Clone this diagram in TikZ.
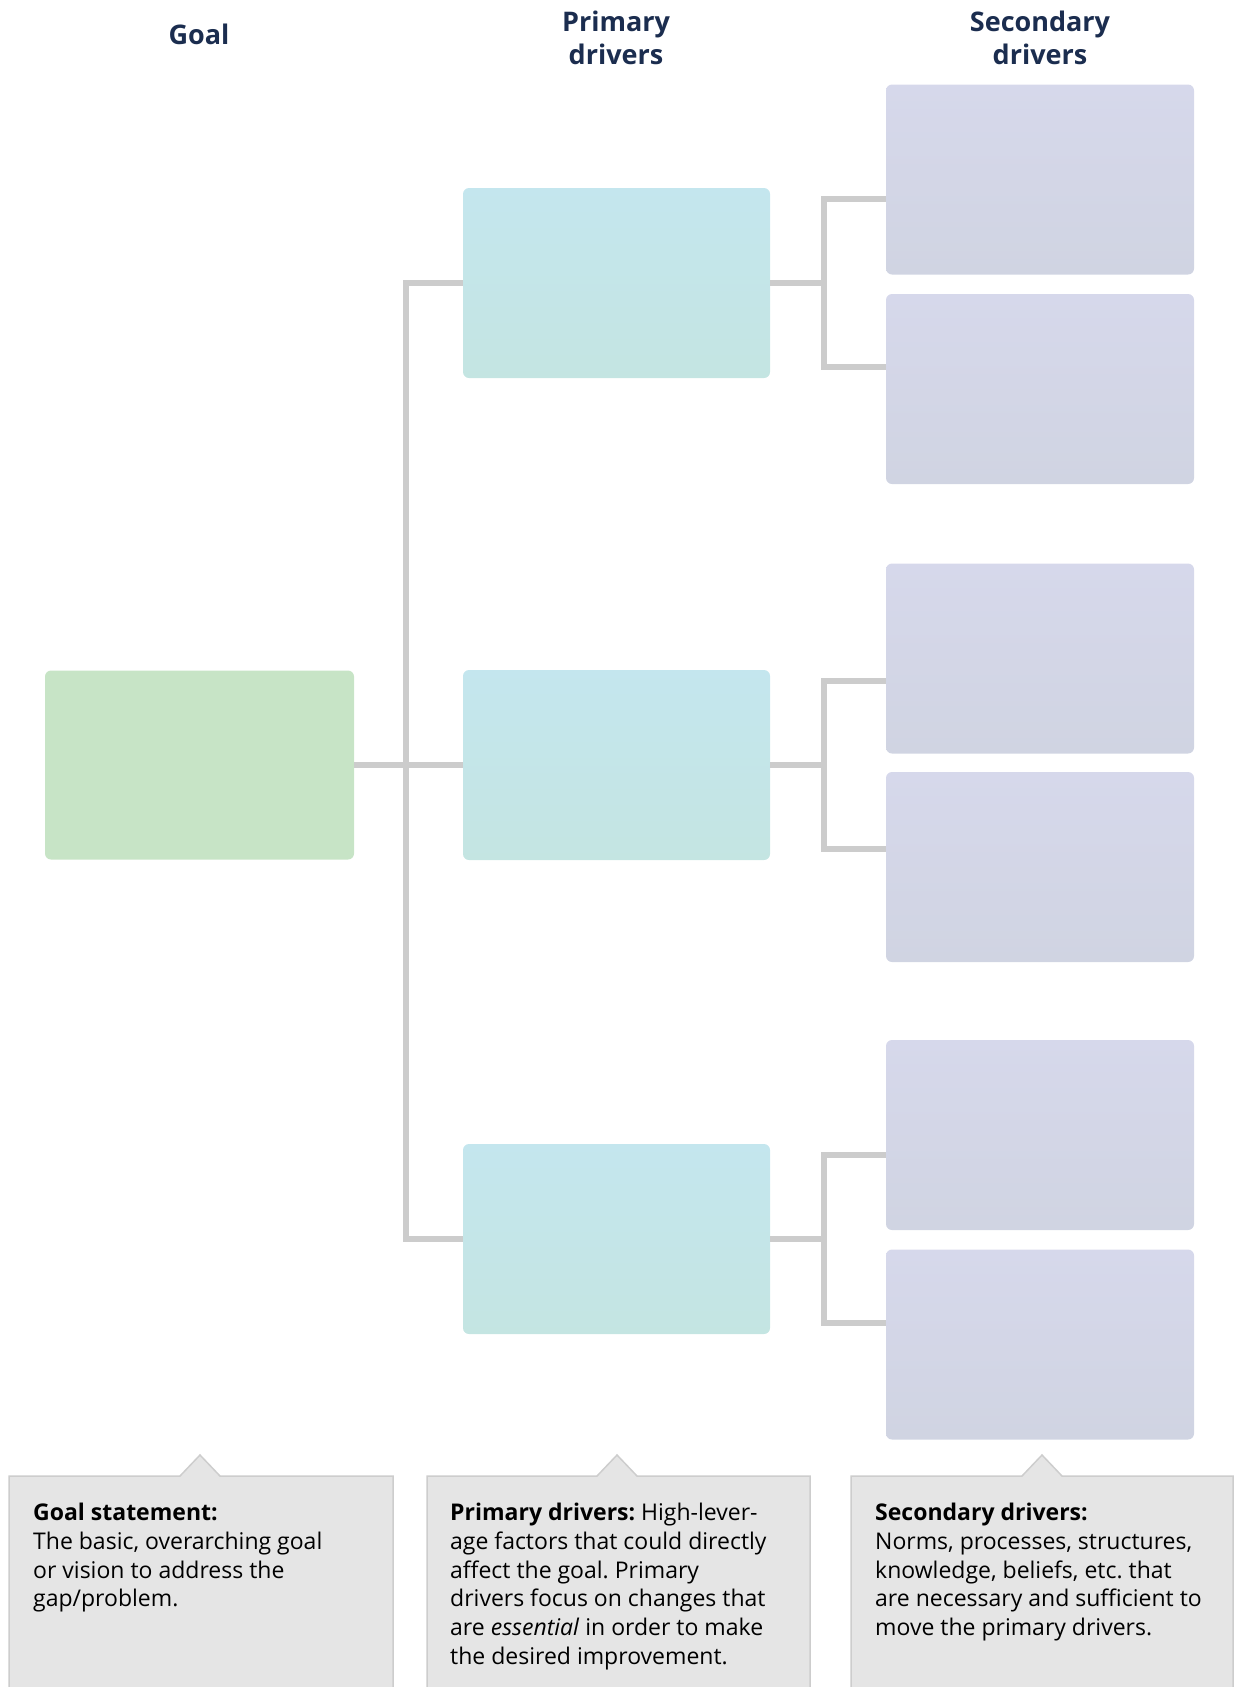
\documentclass[tikz,border=0pt]{standalone}
\usepackage{fontspec}
\setmainfont{Open Sans}
\usepackage{xcolor}
\definecolor{navy}{HTML}{1B2D4F}
\definecolor{goalfill}{HTML}{C7E4C6}
\definecolor{primtop}{HTML}{C4E6EE}
\definecolor{primbot}{HTML}{C4E5E2}
\definecolor{sectop}{HTML}{D6D8EB}
\definecolor{secbot}{HTML}{D0D4E2}
\definecolor{linegray}{HTML}{CCCCCC}
\definecolor{notefill}{HTML}{E5E5E5}
\definecolor{notedraw}{HTML}{CDCDCD}
\usetikzlibrary{calc}
\frenchspacing

\begin{document}
\begin{tikzpicture}[
    x=1pt, y=-1pt,
    head/.style  = {align=center, text=navy, font=\fontsize{27}{33}\selectfont\bfseries},
    goalbox/.style = {rectangle, rounded corners=6pt, fill=goalfill,
                   minimum width=309pt, minimum height=189pt, inner sep=0pt},
    primbox/.style = {rectangle, rounded corners=6pt, top color=primtop, bottom color=primbot,
                   minimum width=307pt, minimum height=190pt, inner sep=0pt},
    secbox/.style  = {rectangle, rounded corners=6pt, top color=sectop, bottom color=secbot,
                   minimum width=308pt, minimum height=190pt, inner sep=0pt},
    conn/.style = {linegray, line width=6pt},
    note/.style = {fill=notefill, draw=notedraw, line width=1.5pt},
    notetext/.style = {anchor=north west, inner sep=0pt, align=left,
                   font=\fontsize{23}{28.7}\selectfont, text=black},
  ]
    \useasboundingbox (0,0) rectangle (1235,1687);

    % ── Column heads ─────────────────────────────────────────
    \node[head] (hgoal) at (199, 34) {Goal};
    \node[head] (hprim) at (616, 38) {Primary\\drivers};
    \node[head] (hsec)  at (1040, 38) {Secondary\\drivers};

    % ── Goal and primary drivers ─────────────────────────────
    \node[goalbox] (goal) at (199.5, 765) {};
    \node[primbox] (pd1) at (616.5, 283) {};
    \node[primbox] (pd2) at (616.5, 765) {};
    \node[primbox] (pd3) at (616.5, 1239) {};

    % ── Secondary drivers ────────────────────────────────────
    \node[secbox] (sd1a) at (1040, 179.5) {};
    \node[secbox] (sd1b) at (1040, 389) {};
    \node[secbox] (sd2a) at (1040, 658.5) {};
    \node[secbox] (sd2b) at (1040, 867) {};
    \node[secbox] (sd3a) at (1040, 1135) {};
    \node[secbox] (sd3b) at (1040, 1344.5) {};

    % ── Connectors ───────────────────────────────────────────
    \coordinate (trunk) at (406, 765);
    \draw[conn] (goal.east) -- (pd2.west);
    \draw[conn] (pd1.west) -| (trunk) |- (pd3.west);
    \foreach \i in {1,2,3} {
      \coordinate (j\i) at (pd\i.east -| 824,0);
      \draw[conn] (pd\i.east) -- (j\i);
      \coordinate (jt\i) at ($(j\i)+(0,-84)$);
      \coordinate (jb\i) at ($(j\i)+(0,84)$);
      \draw[conn] (jt\i -| sd\i a.west) -- (jt\i) -- (jb\i) -- (jb\i -| sd\i b.west);
    }

    % ── Notes ────────────────────────────────────────────────
    \draw[note] (9,1690) -- (9,1476) -- (180,1476) -- (200,1455) -- (220,1476)
                -- (393,1476) -- (393,1690);
    \draw[note] (427,1690) -- (427,1476) -- (597,1476) -- (617,1455) -- (637,1476)
                -- (810,1476) -- (810,1690);
    \draw[note] (851,1690) -- (851,1476) -- (1022,1476) -- (1042,1455) -- (1062,1476)
                -- (1233,1476) -- (1233,1690);

    \node[notetext] (ngoal) at (33, 1503)
      {\textbf{Goal statement:}\\The basic, overarching goal\\or vision to address the\\gap/problem.};
    \node[notetext] (nprim) at (450, 1503)
      {\textbf{Primary drivers:} High-lever-\\age factors that could directly\\affect the goal. Primary\\drivers focus on changes that\\are \textit{essential} in order to make\\the desired improvement.};
    \node[notetext] (nsec) at (875, 1503)
      {\textbf{Secondary drivers:}\\Norms, processes, structures,\\knowledge, beliefs, etc. that\\are necessary and sufficient to\\move the primary drivers.};

  \end{tikzpicture}
\end{document}
